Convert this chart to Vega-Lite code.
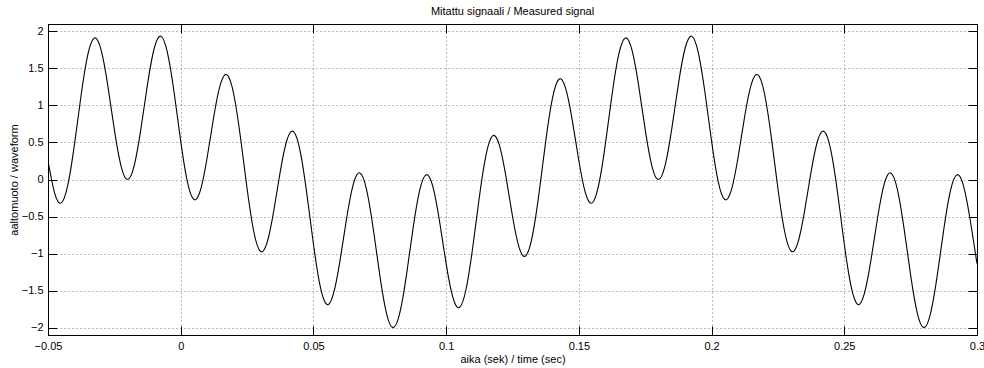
{
  "$schema": "https://vega.github.io/schema/vega-lite/v6.json",
  "width": 929,
  "height": 311,
  "autosize": "none",
  "padding": {"left": 48, "top": 24, "right": 7, "bottom": 33},
  "background": "white",
  "title": {
    "text": "Mitattu signaali / Measured signal",
    "fontSize": 11,
    "fontWeight": "normal",
    "font": "Liberation Sans",
    "color": "black",
    "anchor": "middle",
    "offset": 7
  },
  "config": {
    "font": "Liberation Sans",
    "view": {"stroke": "black", "strokeWidth": 1},
    "axis": {
      "labelFont": "Liberation Sans",
      "titleFont": "Liberation Sans",
      "labelFontSize": 11,
      "titleFontSize": 11,
      "titleFontWeight": "normal",
      "labelColor": "black",
      "titleColor": "black",
      "domainColor": "black",
      "tickColor": "black",
      "tickWidth": 1,
      "domainWidth": 1
    }
  },
  "data": {
    "values": [
      {"t": -0.05, "x": 0.253}, {"t": -0.0475, "x": -0.184}, {"t": -0.045, "x": -0.316}, {"t": -0.0425, "x": -0.069},
      {"t": -0.04, "x": 0.481}, {"t": -0.0375, "x": 1.145}, {"t": -0.035, "x": 1.685}, {"t": -0.0325, "x": 1.911},
      {"t": -0.03, "x": 1.75}, {"t": -0.0275, "x": 1.274}, {"t": -0.025, "x": 0.673}, {"t": -0.0225, "x": 0.185},
      {"t": -0.02, "x": -0.001}, {"t": -0.0175, "x": 0.19}, {"t": -0.015, "x": 0.683}, {"t": -0.0125, "x": 1.288},
      {"t": -0.01, "x": 1.769}, {"t": -0.0075, "x": 1.935}, {"t": -0.005, "x": 1.714}, {"t": -0.0025, "x": 1.178},
      {"t": 0, "x": 0.518}, {"t": 0.0025, "x": -0.029}, {"t": 0.005, "x": -0.271}, {"t": 0.0075, "x": -0.136},
      {"t": 0.01, "x": 0.304}, {"t": 0.0125, "x": 0.858}, {"t": 0.015, "x": 1.291}, {"t": 0.0175, "x": 1.412},
      {"t": 0.02, "x": 1.148}, {"t": 0.0225, "x": 0.573}, {"t": 0.025, "x": -0.122}, {"t": 0.0275, "x": -0.699},
      {"t": 0.03, "x": -0.969}, {"t": 0.0325, "x": -0.856}, {"t": 0.035, "x": -0.434}, {"t": 0.0375, "x": 0.106},
      {"t": 0.04, "x": 0.53}, {"t": 0.0425, "x": 0.647}, {"t": 0.045, "x": 0.383}, {"t": 0.0475, "x": -0.187},
      {"t": 0.05, "x": -0.871}, {"t": 0.0525, "x": -1.434}, {"t": 0.055, "x": -1.685}, {"t": 0.0575, "x": -1.549},
      {"t": 0.06, "x": -1.099}, {"t": 0.0625, "x": -0.527}, {"t": 0.065, "x": -0.067}, {"t": 0.0675, "x": 0.089},
      {"t": 0.07, "x": -0.132}, {"t": 0.0725, "x": -0.656}, {"t": 0.075, "x": -1.291}, {"t": 0.0775, "x": -1.803},
      {"t": 0.08, "x": -2.0}, {"t": 0.0825, "x": -1.808}, {"t": 0.085, "x": -1.301}, {"t": 0.0875, "x": -0.67},
      {"t": 0.09, "x": -0.151}, {"t": 0.0925, "x": 0.065}, {"t": 0.095, "x": -0.096}, {"t": 0.0975, "x": -0.56},
      {"t": 0.1, "x": -1.136}, {"t": 0.1025, "x": -1.589}, {"t": 0.105, "x": -1.729}, {"t": 0.1075, "x": -1.482},
      {"t": 0.11, "x": -0.922}, {"t": 0.1125, "x": -0.24}, {"t": 0.115, "x": 0.327}, {"t": 0.1175, "x": 0.589},
      {"t": 0.12, "x": 0.47}, {"t": 0.1225, "x": 0.045}, {"t": 0.125, "x": -0.496}, {"t": 0.1275, "x": -0.919},
      {"t": 0.13, "x": -1.031}, {"t": 0.1325, "x": -0.762}, {"t": 0.135, "x": -0.184}, {"t": 0.1375, "x": 0.512},
      {"t": 0.14, "x": 1.088}, {"t": 0.1425, "x": 1.354}, {"t": 0.145, "x": 1.235}, {"t": 0.1475, "x": 0.805},
      {"t": 0.15, "x": 0.253}, {"t": 0.1525, "x": -0.184}, {"t": 0.155, "x": -0.316}, {"t": 0.1575, "x": -0.069},
      {"t": 0.16, "x": 0.481}, {"t": 0.1625, "x": 1.145}, {"t": 0.165, "x": 1.685}, {"t": 0.1675, "x": 1.911},
      {"t": 0.17, "x": 1.75}, {"t": 0.1725, "x": 1.274}, {"t": 0.175, "x": 0.673}, {"t": 0.1775, "x": 0.185},
      {"t": 0.18, "x": -0.001}, {"t": 0.1825, "x": 0.19}, {"t": 0.185, "x": 0.683}, {"t": 0.1875, "x": 1.288},
      {"t": 0.19, "x": 1.769}, {"t": 0.1925, "x": 1.935}, {"t": 0.195, "x": 1.714}, {"t": 0.1975, "x": 1.178},
      {"t": 0.2, "x": 0.518}, {"t": 0.2025, "x": -0.029}, {"t": 0.205, "x": -0.271}, {"t": 0.2075, "x": -0.136},
      {"t": 0.21, "x": 0.304}, {"t": 0.2125, "x": 0.858}, {"t": 0.215, "x": 1.291}, {"t": 0.2175, "x": 1.412},
      {"t": 0.22, "x": 1.148}, {"t": 0.2225, "x": 0.573}, {"t": 0.225, "x": -0.122}, {"t": 0.2275, "x": -0.699},
      {"t": 0.23, "x": -0.969}, {"t": 0.2325, "x": -0.856}, {"t": 0.235, "x": -0.434}, {"t": 0.2375, "x": 0.106},
      {"t": 0.24, "x": 0.53}, {"t": 0.2425, "x": 0.647}, {"t": 0.245, "x": 0.383}, {"t": 0.2475, "x": -0.187},
      {"t": 0.25, "x": -0.871}, {"t": 0.2525, "x": -1.434}, {"t": 0.255, "x": -1.685}, {"t": 0.2575, "x": -1.549},
      {"t": 0.26, "x": -1.099}, {"t": 0.2625, "x": -0.527}, {"t": 0.265, "x": -0.067}, {"t": 0.2675, "x": 0.089},
      {"t": 0.27, "x": -0.132}, {"t": 0.2725, "x": -0.656}, {"t": 0.275, "x": -1.291}, {"t": 0.2775, "x": -1.803},
      {"t": 0.28, "x": -2.0}, {"t": 0.2825, "x": -1.808}, {"t": 0.285, "x": -1.301}, {"t": 0.2875, "x": -0.67},
      {"t": 0.29, "x": -0.151}, {"t": 0.2925, "x": 0.065}, {"t": 0.295, "x": -0.096}, {"t": 0.2975, "x": -0.56},
      {"t": 0.3, "x": -1.136}
    ]
  },
  "layer": [
    {
      "mark": {"type": "line", "interpolate": "natural", "color": "black", "strokeWidth": 1.1, "clip": true},
      "encoding": {
        "x": {
          "field": "t", "type": "quantitative",
          "scale": {"domain": [-0.05, 0.3], "nice": false, "zero": false},
          "axis": {
            "orient": "bottom",
            "title": "aika (sek) / time (sec)",
            "values": [-0.05, 0, 0.05, 0.1, 0.15, 0.2, 0.25, 0.3],
            "format": "~g",
            "tickSize": -9,
            "labelPadding": 14,
            "titlePadding": 2,
            "labelFlush": false,
            "labelOverlap": false,
            "grid": true,
            "gridColor": "#777",
            "gridDash": [1, 3],
            "gridWidth": 1
          }
        },
        "y": {
          "field": "x", "type": "quantitative",
          "scale": {"domain": [-2.1, 2.1], "nice": false, "zero": false},
          "axis": {
            "orient": "left",
            "title": "aaltomuoto / waveform",
            "values": [-2, -1.5, -1, -0.5, 0, 0.5, 1, 1.5, 2],
            "format": "~g",
            "tickSize": -9,
            "labelPadding": 14,
            "titlePadding": 2,
            "labelFlush": false,
            "labelOverlap": false,
            "grid": true,
            "gridColor": "#777",
            "gridDash": [1, 3],
            "gridWidth": 1
          }
        }
      }
    },
    {
      "mark": {"type": "line", "opacity": 0},
      "encoding": {
        "x": {
          "field": "t", "type": "quantitative",
          "scale": {"domain": [-0.05, 0.3], "nice": false, "zero": false},
          "axis": {"orient": "top", "title": null, "labels": false, "values": [-0.05, 0, 0.05, 0.1, 0.15, 0.2, 0.25, 0.3], "tickSize": -9, "grid": false}
        },
        "y": {
          "field": "x", "type": "quantitative",
          "scale": {"domain": [-2.1, 2.1], "nice": false, "zero": false},
          "axis": {"orient": "right", "title": null, "labels": false, "values": [-2, -1.5, -1, -0.5, 0, 0.5, 1, 1.5, 2], "tickSize": -9, "grid": false}
        }
      }
    }
  ],
  "resolve": {"axis": {"x": "independent", "y": "independent"}}
}
